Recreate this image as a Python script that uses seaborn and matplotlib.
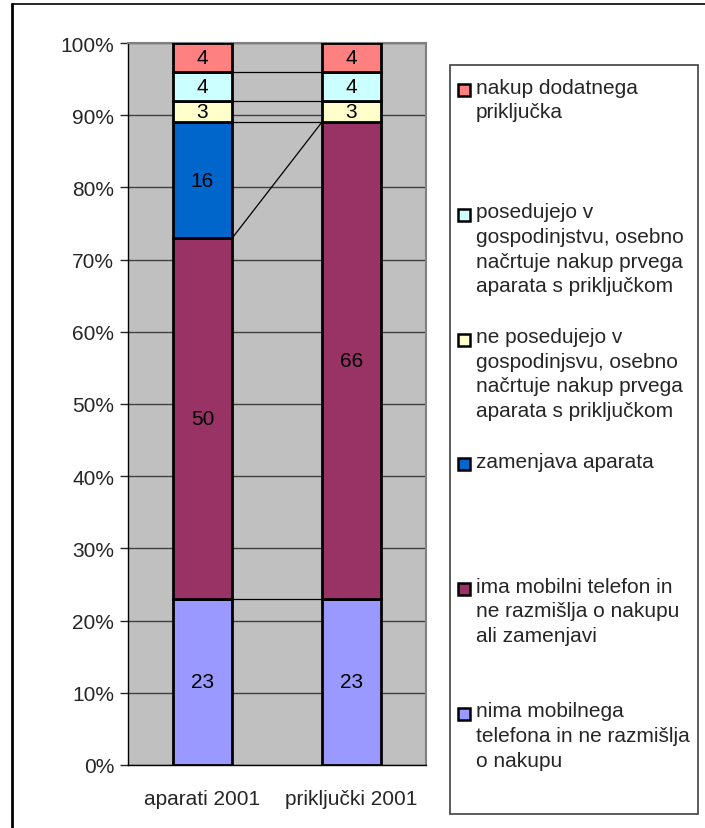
import numpy as np
import pandas as pd
import seaborn as sns
import matplotlib.pyplot as plt
from matplotlib.patches import Rectangle
from matplotlib.lines import Line2D

# podatki
kategorije = ["aparati 2001", "priključki 2001"]
nima = [23, 23]
ima = [50, 66]
zamenjava = [16, 0]
ne_posedujejo = [3, 3]
posedujejo = [4, 4]
dodatni = [4, 4]

serije = [
    ("nima mobilnega\ntelefona in ne razmišlja\no nakupu", nima, "#9999FF"),
    ("ima mobilni telefon in\nne razmišlja o nakupu\nali zamenjavi", ima, "#993366"),
    ("zamenjava aparata", zamenjava, "#0066CC"),
    ("ne posedujejo v\ngospodinjsvu, osebno\nnačrtuje nakup prvega\naparata s priključkom", ne_posedujejo, "#FFFFCC"),
    ("posedujejo v\ngospodinjstvu, osebno\nnačrtuje nakup prvega\naparata s priključkom", posedujejo, "#CCFFFF"),
    ("nakup dodatnega\npriključka", dodatni, "#FF8080"),
]

sns.set_style("white")
plt.rcParams["font.family"] = ["Liberation Sans", "DejaVu Sans"]
fs = 15

W, H = 705, 829
fig = plt.figure(figsize=(W / 100, H / 100), dpi=100)
ax = fig.add_axes([128 / W, 1 - 766 / H, (426 - 128) / W, (766 - 44) / H])
ax.set_facecolor("#C0C0C0")

bar_w = 0.4
spodaj = np.zeros(len(kategorije))
vrhovi = []
for ime, vrednosti, barva in serije:
    df = pd.DataFrame({"kat": kategorije, "vrednost": vrednosti})
    sns.barplot(data=df, x="kat", y="vrednost", order=kategorije, color=barva,
                width=bar_w, bottom=spodaj.copy(), edgecolor="black",
                linewidth=2, saturation=1, ax=ax, zorder=3)
    for i, v in enumerate(vrednosti):
        if v > 0:
            ax.text(i, spodaj[i] + v / 2, str(v), ha="center", va="center",
                    fontsize=fs, color="black", zorder=5)
    spodaj = spodaj + np.array(vrednosti)
    vrhovi.append(spodaj.copy())

# povezovalne crte med stolpci
for vrh in vrhovi[:-1]:
    ax.plot([0 + bar_w / 2, 1 - bar_w / 2], [vrh[0], vrh[1]], color="black",
            lw=0.9, zorder=4)

ax.set_xlim(-0.5, 1.5)
ax.set_ylim(0, 100)
ax.set_yticks(np.arange(0, 101, 10))
ax.set_yticklabels([f"{t}%" for t in range(0, 101, 10)], fontsize=fs)
ax.set_xticks([0, 1])
ax.set_xticklabels(kategorije, fontsize=fs)
ax.set_xticks([-0.5, 0.5, 1.5], minor=True)
ax.tick_params(axis="x", which="major", length=0, pad=17)
ax.tick_params(axis="x", which="minor", length=6, direction="out", width=1)
ax.tick_params(axis="y", length=6, direction="out", width=1, pad=4, left=True)
ax.set_xlabel("")
ax.set_ylabel("")
ax.yaxis.grid(True, color="#404040", lw=1)
ax.set_axisbelow(True)
for s in ["top", "right"]:
    ax.spines[s].set_color("#808080")
    ax.spines[s].set_linewidth(1.5)
for s in ["left", "bottom"]:
    ax.spines[s].set_color("black")
    ax.spines[s].set_linewidth(1)

# okvir slike
fig.add_artist(Line2D([12 / W, 1.0], [1 - 5 / H, 1 - 5 / H], color="black", lw=1.2))
fig.add_artist(Line2D([12 / W, 12 / W], [0, 1 - 5 / H], color="black", lw=2))

# legenda
fig.add_artist(Rectangle((450 / W, 1 - 815 / H), (698 - 450) / W, (815 - 66) / H,
                         transform=fig.transFigure, facecolor="white",
                         edgecolor="#404040", lw=1.2))
y0 = 91
for k, (ime, vrednosti, barva) in enumerate(serije[::-1]):
    yc = y0 + k * 124.8
    fig.add_artist(Rectangle((458 / W, 1 - (yc + 6) / H), 12 / W, 12 / H,
                             transform=fig.transFigure, facecolor=barva,
                             edgecolor="black", lw=1.8))
    fig.text(476 / W, 1 - (yc - 12.5) / H, ime, ha="left", va="top",
             fontsize=fs, linespacing=1.38)

fig.savefig("out.png", dpi=100)
